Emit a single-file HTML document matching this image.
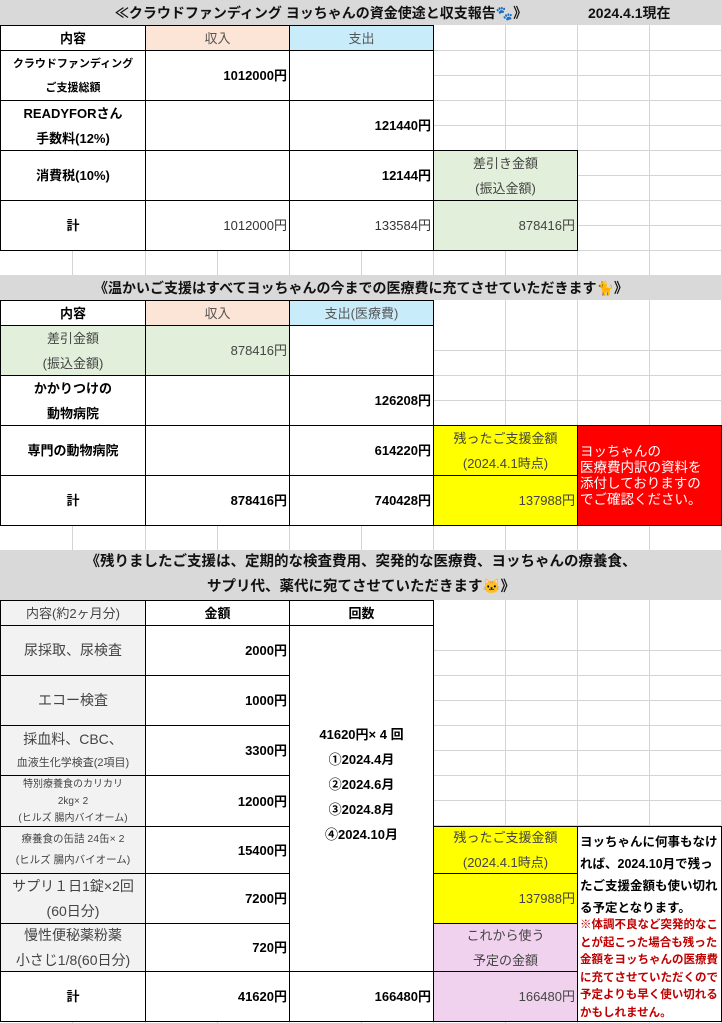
<!DOCTYPE html>
<html><head><meta charset="utf-8">
<style>
html,body{margin:0;padding:0;background:#fff;}
body{width:722px;height:1023px;position:relative;overflow:hidden;font-family:"Liberation Sans","Noto Sans CJK JP",sans-serif;}
.c{position:absolute;box-sizing:border-box;border:1px solid #000;display:flex;align-items:center;justify-content:center;text-align:center;font-size:13px;line-height:25px;color:#000;background:#fff;}
.b{font-weight:bold;}
.r{justify-content:flex-end;padding-right:2px;}
.g{color:#333;}
.band{position:absolute;left:0;width:722px;background:#d9d9d9;display:flex;align-items:center;justify-content:center;font-weight:bold;font-size:14px;color:#111;text-align:center;}
.pk{background:#fce4d6;color:#555;}
.bl2{background:#c9ecfa;color:#555;}
.gr{background:#e2efda;color:#444;}
.ye{background:#ffff00;color:#444;}
.rd{background:#ff0000;color:#fff;}
.pu{background:#f1d2ee;color:#444;}
.lg{background:#f2f2f2;color:#444;}
</style></head><body>
<svg width="722" height="1023" style="position:absolute;left:0;top:0">
<g stroke="#d4d4d4" stroke-width="1">
<line x1="72.5" y1="0" x2="72.5" y2="1023"/><line x1="145.5" y1="0" x2="145.5" y2="1023"/><line x1="217.5" y1="0" x2="217.5" y2="1023"/><line x1="289.5" y1="0" x2="289.5" y2="1023"/><line x1="361.5" y1="0" x2="361.5" y2="1023"/><line x1="433.5" y1="0" x2="433.5" y2="1023"/><line x1="505.5" y1="0" x2="505.5" y2="1023"/><line x1="577.5" y1="0" x2="577.5" y2="1023"/><line x1="649.5" y1="0" x2="649.5" y2="1023"/><line x1="721.5" y1="0" x2="721.5" y2="1023"/>
<line x1="0" y1="50.5" x2="722" y2="50.5"/><line x1="0" y1="75.5" x2="722" y2="75.5"/><line x1="0" y1="100.5" x2="722" y2="100.5"/><line x1="0" y1="125.5" x2="722" y2="125.5"/><line x1="0" y1="150.5" x2="722" y2="150.5"/><line x1="0" y1="175.5" x2="722" y2="175.5"/><line x1="0" y1="200.5" x2="722" y2="200.5"/><line x1="0" y1="225.5" x2="722" y2="225.5"/><line x1="0" y1="250.5" x2="722" y2="250.5"/>
<line x1="0" y1="350.5" x2="722" y2="350.5"/><line x1="0" y1="375.5" x2="722" y2="375.5"/><line x1="0" y1="400.5" x2="722" y2="400.5"/><line x1="0" y1="425.5" x2="722" y2="425.5"/>
<line x1="0" y1="650.5" x2="722" y2="650.5"/><line x1="0" y1="675.5" x2="722" y2="675.5"/><line x1="0" y1="700.5" x2="722" y2="700.5"/><line x1="0" y1="725.5" x2="722" y2="725.5"/><line x1="0" y1="750.5" x2="722" y2="750.5"/><line x1="0" y1="775.5" x2="722" y2="775.5"/><line x1="0" y1="800.5" x2="722" y2="800.5"/><line x1="0" y1="825.5" x2="722" y2="825.5"/>
</g></svg>

<div class="band" style="top:0;height:25px"><span style="margin-left:-80px">≪クラウドファンディング ヨッちゃんの資金使途と収支報告🐾》</span><span style="position:absolute;left:588px">2024.4.1現在</span></div>

<div class="c b" style="left:0;top:25px;width:146px;height:26px">内容</div>
<div class="c pk" style="left:145px;top:25px;width:145px;height:26px">収入</div>
<div class="c bl2" style="left:289px;top:25px;width:145px;height:26px">支出</div>
<div class="c b" style="left:0;top:50px;width:146px;height:51px;font-size:11px;line-height:24px">クラウドファンディング<br>ご支援総額</div>
<div class="c b r" style="left:145px;top:50px;width:145px;height:51px">1012000円</div>
<div class="c" style="left:289px;top:50px;width:145px;height:51px"></div>
<div class="c b" style="left:0;top:100px;width:146px;height:51px">READYFORさん<br>手数料(12%)</div>
<div class="c" style="left:145px;top:100px;width:145px;height:51px"></div>
<div class="c b r" style="left:289px;top:100px;width:145px;height:51px">121440円</div>
<div class="c b" style="left:0;top:150px;width:146px;height:51px">消費税(10%)</div>
<div class="c" style="left:145px;top:150px;width:145px;height:51px"></div>
<div class="c b r" style="left:289px;top:150px;width:145px;height:51px">12144円</div>
<div class="c gr" style="left:433px;top:150px;width:145px;height:51px">差引き金額<br>(振込金額)</div>
<div class="c b" style="left:0;top:200px;width:146px;height:51px">計</div>
<div class="c r g" style="left:145px;top:200px;width:145px;height:51px">1012000円</div>
<div class="c r g" style="left:289px;top:200px;width:145px;height:51px">133584円</div>
<div class="c r gr" style="left:433px;top:200px;width:145px;height:51px">878416円</div>

<div class="band" style="top:275px;height:25px">《温かいご支援はすべてヨッちゃんの今までの医療費に充てさせていただきます🐈》</div>

<div class="c b" style="left:0;top:300px;width:146px;height:26px">内容</div>
<div class="c pk" style="left:145px;top:300px;width:145px;height:26px">収入</div>
<div class="c bl2" style="left:289px;top:300px;width:145px;height:26px">支出(医療費)</div>
<div class="c gr" style="left:0;top:325px;width:146px;height:51px">差引金額<br>(振込金額)</div>
<div class="c gr r" style="left:145px;top:325px;width:145px;height:51px">878416円</div>
<div class="c" style="left:289px;top:325px;width:145px;height:51px"></div>
<div class="c b" style="left:0;top:375px;width:146px;height:51px">かかりつけの<br>動物病院</div>
<div class="c" style="left:145px;top:375px;width:145px;height:51px"></div>
<div class="c b r" style="left:289px;top:375px;width:145px;height:51px">126208円</div>
<div class="c b" style="left:0;top:425px;width:146px;height:51px">専門の動物病院</div>
<div class="c" style="left:145px;top:425px;width:145px;height:51px"></div>
<div class="c b r" style="left:289px;top:425px;width:145px;height:51px">614220円</div>
<div class="c ye" style="left:433px;top:425px;width:145px;height:51px">残ったご支援金額<br>(2024.4.1時点)</div>
<div class="c rd" style="left:577px;top:425px;width:145px;height:101px;justify-content:flex-start;text-align:left;line-height:16px;padding-left:2px;font-size:13.5px">ヨッちゃんの<br>医療費内訳の資料を<br>添付しておりますの<br>でご確認ください。</div>
<div class="c b" style="left:0;top:475px;width:146px;height:51px">計</div>
<div class="c b r" style="left:145px;top:475px;width:145px;height:51px">878416円</div>
<div class="c b r" style="left:289px;top:475px;width:145px;height:51px">740428円</div>
<div class="c ye r" style="left:433px;top:475px;width:145px;height:51px">137988円</div>

<div class="band" style="top:550px;height:50px;line-height:25px;font-size:14.5px">《残りましたご支援は、定期的な検査費用、突発的な医療費、ヨッちゃんの療養食、<br>サプリ代、薬代に宛てさせていただきます🐱》</div>

<div class="c lg" style="left:0;top:600px;width:146px;height:26px">内容(約2ヶ月分)</div>
<div class="c b" style="left:145px;top:600px;width:145px;height:26px">金額</div>
<div class="c b" style="left:289px;top:600px;width:145px;height:26px">回数</div>
<div class="c lg" style="left:0;top:625px;width:146px;height:51px;font-size:14px">尿採取、尿検査</div>
<div class="c b r" style="left:145px;top:625px;width:145px;height:51px">2000円</div>
<div class="c lg" style="left:0;top:675px;width:146px;height:51px;font-size:14px">エコー検査</div>
<div class="c b r" style="left:145px;top:675px;width:145px;height:51px">1000円</div>
<div class="c lg" style="left:0;top:725px;width:146px;height:51px;line-height:22px"><div style="font-size:14px">採血料、CBC、<br><span style="font-size:11px">血液生化学検査(2項目)</span></div></div>
<div class="c b r" style="left:145px;top:725px;width:145px;height:51px">3300円</div>
<div class="c lg" style="left:0;top:775px;width:146px;height:52px;font-size:10px;line-height:17px">特別療養食のカリカリ<br>2kg× 2<br>(ヒルズ 腸内バイオーム)</div>
<div class="c b r" style="left:145px;top:775px;width:145px;height:52px">12000円</div>
<div class="c lg" style="left:0;top:826px;width:146px;height:48px;font-size:10.5px;line-height:21px">療養食の缶詰 24缶× 2<br>(ヒルズ 腸内バイオーム)</div>
<div class="c b r" style="left:145px;top:826px;width:145px;height:48px">15400円</div>
<div class="c lg" style="left:0;top:873px;width:146px;height:51px;font-size:14px">サプリ１日1錠×2回<br>(60日分)</div>
<div class="c b r" style="left:145px;top:873px;width:145px;height:51px">7200円</div>
<div class="c lg" style="left:0;top:923px;width:146px;height:49px;font-size:14px">慢性便秘薬粉薬<br>小さじ1/8(60日分)</div>
<div class="c b r" style="left:145px;top:923px;width:145px;height:49px">720円</div>
<div class="c b" style="left:289px;top:625px;width:145px;height:347px;align-items:flex-start;padding-top:96px">41620円× 4 回<br>①2024.4月<br>②2024.6月<br>③2024.8月<br>④2024.10月</div>
<div class="c b" style="left:0;top:971px;width:146px;height:51px">計</div>
<div class="c b r" style="left:145px;top:971px;width:145px;height:51px">41620円</div>
<div class="c b r" style="left:289px;top:971px;width:145px;height:51px">166480円</div>
<div class="c ye" style="left:433px;top:826px;width:145px;height:48px">残ったご支援金額<br>(2024.4.1時点)</div>
<div class="c ye r" style="left:433px;top:873px;width:145px;height:51px">137988円</div>
<div class="c pu" style="left:433px;top:923px;width:145px;height:49px">これから使う<br>予定の金額</div>
<div class="c pu r" style="left:433px;top:971px;width:145px;height:51px">166480円</div>
<div class="c b" style="left:577px;top:826px;width:145px;height:196px;display:block;text-align:left;padding:4px 1px 0 2px;overflow:hidden"><div style="font-size:12.5px;line-height:22px">ヨッちゃんに何事もなければ、2024.10月で残ったご支援金額も使い切れる予定となります。</div><div style="color:#c00000;font-size:11.5px;line-height:17.5px;margin-top:-2px">※体調不良など突発的なことが起こった場合も残った金額をヨッちゃんの医療費に充てさせていただくので予定よりも早く使い切れるかもしれません。</div></div>
</body></html>
